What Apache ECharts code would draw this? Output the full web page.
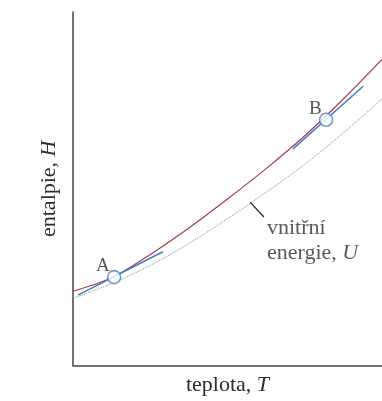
<!DOCTYPE html>
<html>
<head>
<meta charset="utf-8">
<script src="https://cdn.jsdelivr.net/npm/echarts@6/dist/echarts.min.js"></script>
<style>
  html, body { margin: 0; padding: 0; background: #fff; }
  #chart { width: 382px; height: 401px; }
</style>
</head>
<body>
<div id="chart"></div>
<script>
// temperature T (arbitrary units 0..100)
const temps = [0, 12.5, 25, 37.5, 50, 62.5, 75, 87.5, 100]
// enthalpy H
const enthalpy = [21.0, 24.8, 31.4, 38.9, 47.1, 55.7, 65.0, 75.4, 86.6]
// internal energy U
const energy = [19.0, 23.2, 28.3, 34.5, 41.5, 49.0, 56.9, 65.8, 75.4]

// tangents at the two points
const tangentA = [[1.6, 19.9], [29.1, 32.2]]
const tangentB = [[71.2, 61.3], [93.9, 79.0]]

const points = [
  { name: 'A', value: [13.3, 25.0] },
  { name: 'B', value: [81.9, 69.5] }
]

// pointer from the U curve to its label
const pointer = [[57.3, 46.2], [61.8, 42.0]]

const serif = 'Liberation Serif'
const textColor = '#2e2e2e'

const chart = echarts.init(document.getElementById('chart'))

const zip = (xs, ys) => xs.map((x, i) => [x, ys[i]])

const richText = {
  n: { fontFamily: serif, fontSize: 22, color: textColor, lineHeight: 25 },
  i: { fontFamily: serif, fontSize: 22, fontStyle: 'italic', color: textColor, lineHeight: 25 }
}

const option = {
  animation: false,
  grid: { left: 73, top: 12, right: 0, bottom: 32 },
  xAxis: {
    type: 'value',
    min: 0,
    max: 100,
    name: '{n|teplota, }{i|T}',
    nameLocation: 'middle',
    nameGap: 7,
    nameTextStyle: { verticalAlign: 'top', rich: richText },
    axisLine: { show: true, lineStyle: { color: '#444', width: 1.5 } },
    axisTick: { show: false },
    axisLabel: { show: false },
    splitLine: { show: false }
  },
  yAxis: {
    type: 'value',
    min: 0,
    max: 100,
    name: '{n|entalpie, }{i|H}',
    nameLocation: 'middle',
    nameGap: 11,
    nameTextStyle: { rich: richText },
    axisLine: { show: true, lineStyle: { color: '#444', width: 1.5 } },
    axisTick: { show: false },
    axisLabel: { show: false },
    splitLine: { show: false }
  },
  series: [
    {
      name: 'U',
      type: 'line',
      data: zip(temps, energy),
      smooth: 0.3,
      showSymbol: false,
      lineStyle: { color: '#8a8a8a', width: 1, type: 'dotted' }
    },
    {
      name: 'H',
      type: 'line',
      data: zip(temps, enthalpy),
      smooth: 0.3,
      showSymbol: false,
      lineStyle: { color: '#a8394f', width: 1.2 }
    },
    {
      name: 'tangentA',
      type: 'line',
      data: tangentA,
      showSymbol: false,
      lineStyle: { color: '#4a7fc1', width: 1.6 }
    },
    {
      name: 'tangentB',
      type: 'line',
      data: tangentB,
      showSymbol: false,
      lineStyle: { color: '#4a7fc1', width: 1.6 }
    },
    {
      name: 'pointer',
      type: 'line',
      data: pointer,
      showSymbol: false,
      lineStyle: { color: '#222', width: 1.2 }
    },
    {
      name: 'pointerLabel',
      type: 'scatter',
      data: [pointer[1]],
      symbolSize: 0,
      label: {
        show: true,
        position: [3, -1],
        formatter: '{n|vnitřní}\n{n|energie, }{i|U}',
        rich: richText
      }
    },
    {
      name: 'points',
      type: 'scatter',
      data: points,
      symbol: 'circle',
      symbolSize: 13,
      itemStyle: { color: '#fff', borderColor: '#4a7fc1', borderWidth: 1.6 },
      label: {
        show: true,
        formatter: '{b}',
        position: 'left',
        offset: [8, -11],
        fontFamily: serif,
        fontSize: 19,
        color: textColor
      },
      z: 5
    }
  ]
}

chart.setOption(option)
</script>
</body>
</html>
